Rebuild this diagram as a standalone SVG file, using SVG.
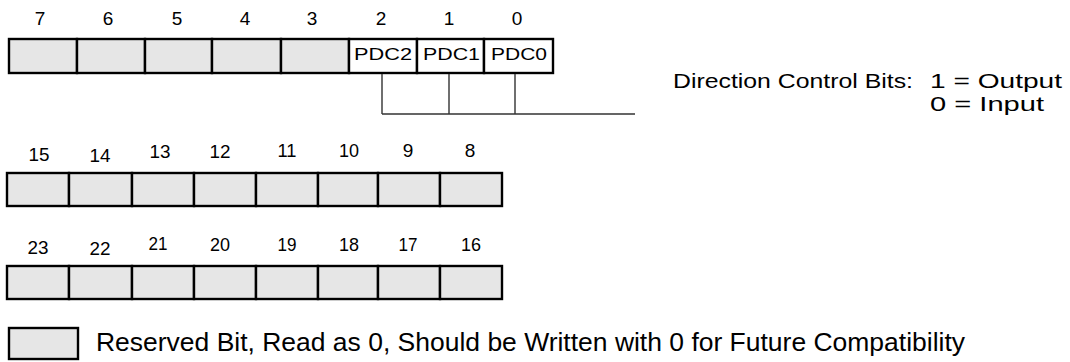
<svg xmlns="http://www.w3.org/2000/svg" width="1070" height="362" viewBox="0 0 1070 362">
<style>
.res{fill:#e6e6e6;stroke:#000;stroke-width:2.4}
.bit{fill:#fff;stroke:#000;stroke-width:2.4}
.num{font-family:"Liberation Sans",Arial,sans-serif;font-size:19px;fill:#000;text-anchor:middle}
.pdc{font-family:"Liberation Sans",Arial,sans-serif;font-size:17px;fill:#000}
.lbl{font-family:"Liberation Sans",Arial,sans-serif;font-size:21px;fill:#000}
.leg{font-family:"Liberation Sans",Arial,sans-serif;font-size:25px;fill:#000}
.wire{stroke:#333;stroke-width:1.4;fill:none}
</style>
<rect width="1070" height="362" fill="#fff"/>
<!-- Row 1: bits 7..0 -->
<g id="bit7"><rect class="res" x="9" y="39" width="68" height="34"/><text class="num" x="40" y="25">7</text></g>
<g id="bit6"><rect class="res" x="77" y="39" width="68" height="34"/><text class="num" x="108" y="25">6</text></g>
<g id="bit5"><rect class="res" x="145" y="39" width="67" height="34"/><text class="num" x="177" y="25">5</text></g>
<g id="bit4"><rect class="res" x="212" y="39" width="69" height="34"/><text class="num" x="245" y="25">4</text></g>
<g id="bit3"><rect class="res" x="281" y="39" width="68" height="34"/><text class="num" x="312" y="25">3</text></g>
<g id="bit2"><rect class="bit" x="349" y="39" width="68" height="34"/><text class="num" x="381" y="25">2</text><text class="pdc" x="354" y="60" textLength="58" lengthAdjust="spacingAndGlyphs">PDC2</text></g>
<g id="bit1"><rect class="bit" x="417" y="39" width="67" height="34"/><text class="num" x="449" y="25">1</text><text class="pdc" x="423" y="60" textLength="57" lengthAdjust="spacingAndGlyphs">PDC1</text></g>
<g id="bit0"><rect class="bit" x="484" y="39" width="69" height="34"/><text class="num" x="517" y="25">0</text><text class="pdc" x="491" y="60" textLength="56" lengthAdjust="spacingAndGlyphs">PDC0</text></g>
<!-- Row 2: bits 15..8 -->
<g id="bit15"><rect class="res" x="7" y="173" width="62" height="33"/><text class="num" x="39" y="161" textLength="21" lengthAdjust="spacingAndGlyphs">15</text></g>
<g id="bit14"><rect class="res" x="69" y="173" width="63" height="33"/><text class="num" x="100" y="162" textLength="21" lengthAdjust="spacingAndGlyphs">14</text></g>
<g id="bit13"><rect class="res" x="132" y="173" width="62" height="33"/><text class="num" x="160" y="158" textLength="21" lengthAdjust="spacingAndGlyphs">13</text></g>
<g id="bit12"><rect class="res" x="194" y="173" width="62" height="33"/><text class="num" x="220" y="158" textLength="21" lengthAdjust="spacingAndGlyphs">12</text></g>
<g id="bit11"><rect class="res" x="256" y="173" width="62" height="33"/><text class="num" x="287" y="157" textLength="19" lengthAdjust="spacingAndGlyphs">11</text></g>
<g id="bit10"><rect class="res" x="318" y="173" width="60" height="33"/><text class="num" x="349" y="157" textLength="20" lengthAdjust="spacingAndGlyphs">10</text></g>
<g id="bit9"><rect class="res" x="378" y="173" width="62" height="33"/><text class="num" x="408" y="157">9</text></g>
<g id="bit8"><rect class="res" x="440" y="173" width="62" height="33"/><text class="num" x="470" y="157">8</text></g>
<!-- Row 3: bits 23..16 -->
<g id="bit23"><rect class="res" x="7" y="266" width="62" height="33"/><text class="num" x="38" y="254" textLength="21" lengthAdjust="spacingAndGlyphs">23</text></g>
<g id="bit22"><rect class="res" x="69" y="266" width="63" height="33"/><text class="num" x="100" y="255" textLength="21" lengthAdjust="spacingAndGlyphs">22</text></g>
<g id="bit21"><rect class="res" x="132" y="266" width="62" height="33"/><text class="num" x="158" y="250" textLength="19" lengthAdjust="spacingAndGlyphs">21</text></g>
<g id="bit20"><rect class="res" x="194" y="266" width="62" height="33"/><text class="num" x="220" y="251" textLength="20" lengthAdjust="spacingAndGlyphs">20</text></g>
<g id="bit19"><rect class="res" x="256" y="266" width="62" height="33"/><text class="num" x="287" y="251" textLength="19" lengthAdjust="spacingAndGlyphs">19</text></g>
<g id="bit18"><rect class="res" x="318" y="266" width="60" height="33"/><text class="num" x="349" y="251" textLength="20" lengthAdjust="spacingAndGlyphs">18</text></g>
<g id="bit17"><rect class="res" x="378" y="266" width="62" height="33"/><text class="num" x="408" y="251" textLength="19" lengthAdjust="spacingAndGlyphs">17</text></g>
<g id="bit16"><rect class="res" x="440" y="266" width="62" height="33"/><text class="num" x="471" y="251" textLength="20" lengthAdjust="spacingAndGlyphs">16</text></g>
<!-- Connectors -->
<g id="connectors">
<path class="wire" d="M382,74 V114 M449,74 V114 M515,74 V114 M382,114 H635"/>
</g>
<!-- Direction note -->
<g id="direction-note">
<text class="lbl" x="673" y="88" textLength="240" lengthAdjust="spacingAndGlyphs">Direction Control Bits:</text>
<text class="lbl" x="930" y="88" textLength="132" lengthAdjust="spacingAndGlyphs">1 = Output</text>
<text class="lbl" x="930" y="111" textLength="114" lengthAdjust="spacingAndGlyphs">0 = Input</text>
</g>
<!-- Legend -->
<g id="legend">
<rect class="res" x="9" y="328" width="69" height="31"/>
<text class="leg" x="96" y="351" textLength="869" lengthAdjust="spacingAndGlyphs">Reserved Bit, Read as 0, Should be Written with 0 for Future Compatibility</text>
</g>
</svg>
